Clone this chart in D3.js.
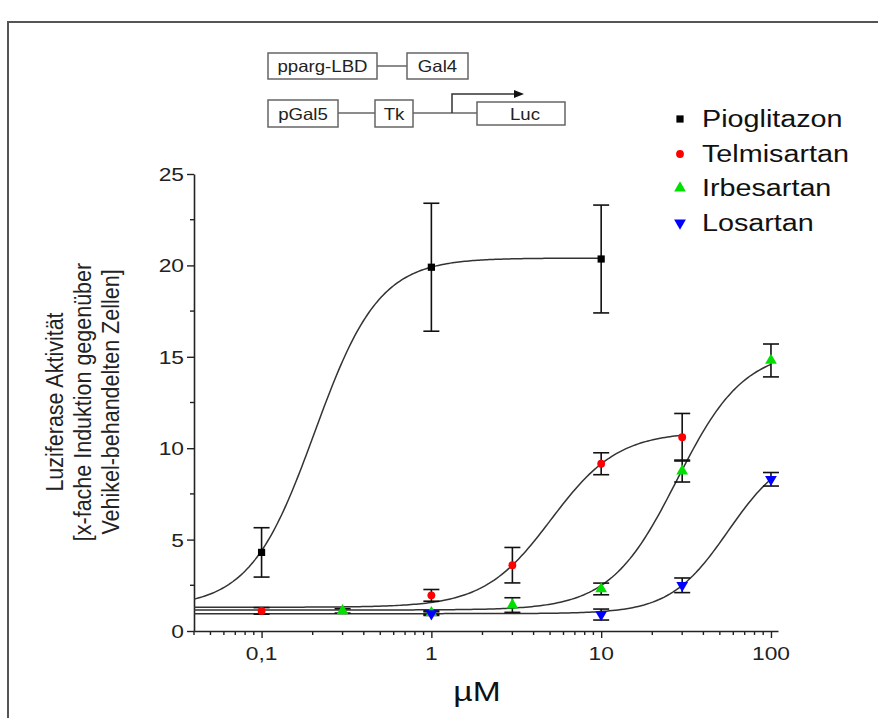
<!DOCTYPE html>
<html><head><meta charset="utf-8">
<script src="https://cdn.jsdelivr.net/npm/d3@7"></script>
<style>body{margin:0;background:#fff;} svg{display:block;}</style>
</head><body>
<svg id="c" width="878" height="718"></svg>
<script>
// ---------- data ----------
const xTickValues = [0.1, 1, 10, 100];
const xTickLabels = ["0,1", "1", "10", "100"];
const yTickValues = [0, 5, 10, 15, 20, 25];
const yTickLabels = ["0", "5", "10", "15", "20", "25"];

const seriesNames = ["Pioglitazon", "Telmisartan", "Irbesartan", "Losartan"];
const seriesColors = ["#000000", "#ff0000", "#00e000", "#0000ff"];

const pioDose = [0.1, 1, 10];
const pioMean = [4.3, 19.9, 20.35];
const pioErr  = [1.35, 3.5, 2.95];

const telDose = [0.1, 1, 3, 10, 30];
const telMean = [1.1, 1.95, 3.6, 9.15, 10.6];
const telErr  = [0.18, 0.32, 0.97, 0.6, 1.3];

const irbDose = [0.3, 1, 3, 10, 30, 100];
const irbMean = [1.1, 1.0, 1.42, 2.3, 8.75, 14.8];
const irbErr  = [0.12, 0.1, 0.4, 0.32, 0.6, 0.9];

const losDose = [1, 10, 30, 100];
const losMean = [0.95, 0.9, 2.5, 8.3];
const losErr  = [0.1, 0.3, 0.4, 0.37];

// fitted dose-response parameters (bottom, top, EC50, Hill) and plotted range
const fitBottom = [1.3, 1.3, 1.15, 0.95];
const fitTop    = [20.4, 10.9, 15.4, 10.0];
const fitEC50   = [0.205, 5.07, 28, 56];
const fitHill   = [2.29, 2.2, 2.2, 2.53];
const fitFrom   = [0.04, 0.04, 0.04, 0.04];
const fitTo     = [10, 30, 100, 100];

const diagramRow1 = ["pparg-LBD", "Gal4"];
const diagramRow2 = ["pGal5", "Tk", "Luc"];

const yTitleLines = ["Luziferase Aktivität", "[x-fache Induktion gegenüber", "Vehikel-behandelten Zellen]"];
const xTitle = "µM";

// ---------- drawing ----------
const svg = d3.select("#c");
const FONT = "Liberation Sans, Arial, sans-serif";
const SX = 1.2; // horizontal stretch of the original raster

svg.append("rect").attr("width", 878).attr("height", 718).attr("fill", "#fff");
// outer frame (continues past the image edge)
svg.append("path").attr("d", "M8,730 L8,22 L890,22").attr("fill", "none")
  .attr("stroke", "#555").attr("stroke-width", 2);

const x = d3.scaleLog().domain([0.04, 110]).range([194, 778]);
const y = d3.scaleLinear().domain([0, 25]).range([631, 174]);

function htext(g, str, px, py, size, anchor, fill, sx) {
  return g.append("text").attr("transform", `translate(${px},${py}) scale(${sx || SX},1)`)
    .attr("text-anchor", anchor || "start").attr("font-family", FONT)
    .attr("font-size", size).attr("fill", fill || "#111").text(str);
}

// axes
const axG = svg.append("g");
const xAxis = d3.axisBottom(x).tickValues(xTickValues).tickFormat("").tickSize(7).tickSizeOuter(0);
const gx = axG.append("g").attr("transform", `translate(0,${y(0)})`).call(xAxis);
const minorX = [];
[0.01, 0.1, 1, 10].forEach(d => { for (let k = 2; k <= 9; k++) { const v = d * k; if (v >= 0.04 && v <= 110) minorX.push(v); } });
gx.append("g").selectAll("line").data(minorX).join("line")
  .attr("x1", d => x(d)).attr("x2", d => x(d)).attr("y1", 0).attr("y2", 4);
const yAxis = d3.axisLeft(y).tickValues(yTickValues).tickFormat("").tickSize(7).tickSizeOuter(0);
const gy = axG.append("g").attr("transform", `translate(${x.range()[0]},0)`).call(yAxis);
gy.append("g").selectAll("line").data([2.5, 7.5, 12.5, 17.5, 22.5]).join("line")
  .attr("x1", 0).attr("x2", -4).attr("y1", d => y(d)).attr("y2", d => y(d));
axG.selectAll("path.domain").attr("stroke", "#222").attr("stroke-width", 1.6);
axG.selectAll("line").attr("stroke", "#222").attr("stroke-width", 1.4);

xTickValues.forEach((v, i) => htext(svg, xTickLabels[i], x(v), 660, 19, "middle", "#222"));
yTickValues.forEach((v, i) => htext(svg, yTickLabels[i], 184, y(v) + 7, 19, "end", "#222"));

htext(svg, xTitle, 477, 701, 28, "middle", "#111");

// y title (rotated)
const ytG = svg.append("g");
[54, 82, 110].forEach((cx, i) => {
  ytG.append("text").attr("transform", `translate(${cx},402) rotate(-90) scale(1,1.15)`)
    .attr("text-anchor", "middle").attr("dy", "0.35em").attr("font-family", FONT)
    .attr("font-size", 21.5).attr("fill", "#222").text(yTitleLines[i]);
});

// fitted curves
const curveG = svg.append("g");
const line = d3.line().x(d => x(d[0])).y(d => y(d[1])).curve(d3.curveLinear);
for (let s = 0; s < 4; s++) {
  const pts = [];
  const l0 = Math.log10(fitFrom[s]), l1 = Math.log10(fitTo[s]);
  for (let k = 0; k <= 200; k++) {
    const xv = Math.pow(10, l0 + (l1 - l0) * k / 200);
    const yv = fitBottom[s] + (fitTop[s] - fitBottom[s]) / (1 + Math.pow(fitEC50[s] / xv, fitHill[s]));
    pts.push([xv, yv]);
  }
  curveG.append("path").attr("d", line(pts)).attr("fill", "none")
    .attr("stroke", "#333").attr("stroke-width", 1.5);
}

// error bars + markers
const allSeries = [
  { dose: pioDose, mean: pioMean, err: pioErr },
  { dose: telDose, mean: telMean, err: telErr },
  { dose: irbDose, mean: irbMean, err: irbErr },
  { dose: losDose, mean: losMean, err: losErr }
];
const symbols = [d3.symbolSquare, d3.symbolCircle, d3.symbolTriangle, d3.symbolTriangle];
const symSizes = [52, 48, 60, 60];
const errG = svg.append("g").attr("stroke", "#111").attr("stroke-width", 1.6);
allSeries.forEach(s => {
  s.dose.forEach((d, i) => {
    const cx = x(d), top = y(s.mean[i] + s.err[i]), bot = y(s.mean[i] - s.err[i]);
    errG.append("line").attr("x1", cx).attr("x2", cx).attr("y1", top).attr("y2", bot);
    errG.append("line").attr("x1", cx - 8).attr("x2", cx + 8).attr("y1", top).attr("y2", top);
    errG.append("line").attr("x1", cx - 8).attr("x2", cx + 8).attr("y1", bot).attr("y2", bot);
  });
});
const markG = svg.append("g");
allSeries.forEach((s, si) => {
  markG.selectAll(null).data(s.dose.map((d, i) => [d, s.mean[i]])).join("path")
    .attr("transform", d => `translate(${x(d[0])},${y(d[1])})${si === 3 ? " rotate(180)" : ""}`)
    .attr("d", d3.symbol().type(symbols[si]).size(symSizes[si])())
    .attr("fill", seriesColors[si]);
});

// legend
const legG = svg.append("g");
const legY = [119, 154, 188, 223];
seriesNames.forEach((n, i) => {
  legG.append("path")
    .attr("transform", `translate(680,${legY[i]})${i === 3 ? " rotate(180)" : ""}`)
    .attr("d", d3.symbol().type(symbols[i]).size(symSizes[i])()).attr("fill", seriesColors[i]);
  htext(legG, n, 702, legY[i] + 8, 23, "start", "#111", 1.25);
});

// construct diagram
const dG = svg.append("g").attr("fill", "none").attr("stroke", "#666").attr("stroke-width", 1.5);
const row1Boxes = [[268, 53, 109, 26], [407, 53, 61, 26]];
const row2Boxes = [[268, 100, 70, 27], [375, 100, 38, 27], [477, 102, 88, 23]];
row1Boxes.forEach((b, i) => {
  dG.append("rect").attr("x", b[0]).attr("y", b[1]).attr("width", b[2]).attr("height", b[3]);
  htext(svg, diagramRow1[i], b[0] + b[2] / 2, b[1] + b[3] / 2 + 6, 16.5, "middle", "#222", 1.13);
});
row2Boxes.forEach((b, i) => {
  dG.append("rect").attr("x", b[0]).attr("y", b[1]).attr("width", b[2]).attr("height", b[3]);
  htext(svg, diagramRow2[i], b[0] + b[2] / 2 + (i === 2 ? 4 : 0), b[1] + b[3] / 2 + 6, 16.5, "middle", "#222", 1.13);
});
dG.append("line").attr("x1", 377).attr("x2", 407).attr("y1", 66).attr("y2", 66);
dG.append("line").attr("x1", 338).attr("x2", 375).attr("y1", 113).attr("y2", 113);
dG.append("line").attr("x1", 413).attr("x2", 477).attr("y1", 113).attr("y2", 113);
svg.append("path").attr("d", "M452,113 L452,94 L516,94").attr("fill", "none").attr("stroke", "#333").attr("stroke-width", 1.5);
svg.append("path").attr("d", "M524,94 L514,90 L514,98 Z").attr("fill", "#111");
</script>
</body></html>
